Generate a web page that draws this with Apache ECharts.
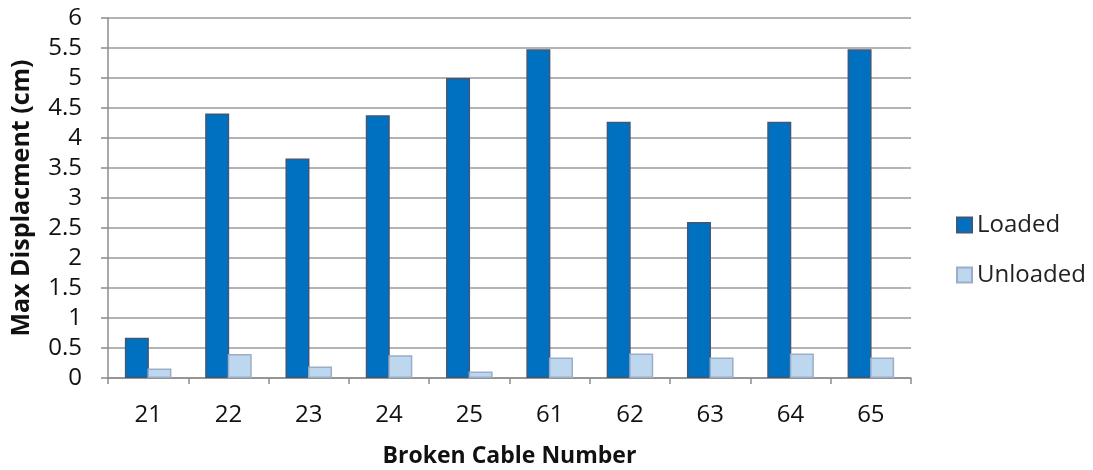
<!DOCTYPE html>
<html>
<head>
<meta charset="utf-8">
<script src="https://cdn.jsdelivr.net/npm/echarts@6/dist/echarts.min.js"></script>
<style>
  html, body { margin: 0; padding: 0; background: #fff; }
  #chart { width: 1093px; height: 470px; }
</style>
</head>
<body>
<div id="chart"></div>
<script>
// Broken cable numbers along the x axis
const cables = ['21', '22', '23', '24', '25', '61', '62', '63', '64', '65'];
// Max displacement (cm) per broken cable
const loaded   = [0.67, 4.41, 3.66, 4.38, 5.00, 5.48, 4.27, 2.60, 4.27, 5.48];
const unloaded = [0.16, 0.40, 0.19, 0.38, 0.11, 0.34, 0.41, 0.34, 0.41, 0.34];

const FONT = '"Open Sans", "Liberation Sans", sans-serif';

const chart = echarts.init(document.getElementById('chart'), null, { renderer: 'canvas' });
chart.setOption({
  animation: false,
  grid: { left: 108, right: 182, top: 18, bottom: 92, containLabel: false, outerBoundsMode: 'none' },
  legend: {
    orient: 'vertical',
    left: 951,
    top: 208,
    itemWidth: 15,
    itemHeight: 15,
    itemGap: 26,
    icon: 'rect',
    textStyle: { fontFamily: FONT, fontSize: 24, color: '#222' },
    data: ['Loaded', 'Unloaded']
  },
  xAxis: {
    type: 'category',
    data: cables,
    name: 'Broken Cable Number',
    nameLocation: 'middle',
    nameGap: 67,
    nameTextStyle: { fontFamily: FONT, fontSize: 23, fontWeight: 'bold', color: '#111' },
    axisLine: { lineStyle: { color: '#8c8c8c', width: 1.5 } },
    axisTick: { show: true, length: 6, lineStyle: { color: '#8c8c8c', width: 1.5 } },
    axisLabel: { fontFamily: FONT, fontSize: 24, color: '#111', margin: 25 }
  },
  yAxis: {
    type: 'value',
    min: 0,
    max: 6,
    interval: 0.5,
    name: 'Max Displacment (cm)',
    nameLocation: 'middle',
    nameGap: 74,
    nameTextStyle: { fontFamily: FONT, fontSize: 25, fontWeight: 'bold', color: '#111' },
    axisLine: { show: true, lineStyle: { color: '#8c8c8c', width: 1.5 } },
    axisTick: { show: true, length: 7, lineStyle: { color: '#8c8c8c', width: 1.5 } },
    axisLabel: { fontFamily: FONT, fontSize: 24, color: '#111', margin: 26 },
    splitLine: { lineStyle: { color: '#9a9a9a', width: 1.5 } }
  },
  series: [
    {
      name: 'Loaded',
      type: 'bar',
      data: loaded,
      barWidth: 24,
      barGap: '-6%',
      itemStyle: { color: '#0070C0', borderColor: '#3F5877', borderWidth: 1.5 }
    },
    {
      name: 'Unloaded',
      type: 'bar',
      data: unloaded,
      barWidth: 24,
      itemStyle: { color: '#BDD7EE', borderColor: '#9BADC8', borderWidth: 1.5 }
    }
  ]
});
</script>
</body>
</html>
